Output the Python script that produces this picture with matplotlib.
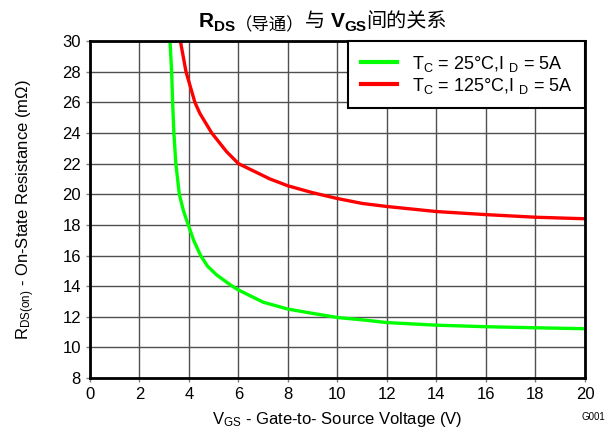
import matplotlib
matplotlib.use("Agg")
import matplotlib.pyplot as plt

plt.rcParams['font.family'] = ['Liberation Sans', 'Noto Sans CJK SC', 'DejaVu Sans']
plt.rcParams['mathtext.fontset'] = 'custom'
plt.rcParams['mathtext.rm'] = 'Liberation Sans'
plt.rcParams['mathtext.it'] = 'Liberation Sans:italic'
plt.rcParams['mathtext.bf'] = 'Liberation Sans:bold'

# curve data
vgs_25 = [3.20, 3.30, 3.34, 3.39, 3.47, 3.61, 3.78, 3.97, 4.2, 4.47, 4.75, 5.12, 5.7, 6, 7, 8, 9, 10, 11, 12, 14, 16, 18, 20]
rds_25 = [31.0, 28.0, 26.0, 24.0, 22.0, 20.0, 18.9, 18.0, 16.95, 16.0, 15.3, 14.73, 14.05, 13.75, 12.95, 12.5, 12.22, 11.95, 11.8, 11.62, 11.45, 11.35, 11.28, 11.22]

vgs_125 = [3.62, 3.88, 4.24, 4.44, 4.92, 5.52, 6.0, 7.27, 8, 9, 10, 11, 12, 14, 16, 18, 20]
rds_125 = [30.3, 28.0, 26.0, 25.28, 24.0, 22.78, 22.0, 21.0, 20.55, 20.1, 19.72, 19.4, 19.2, 18.87, 18.67, 18.5, 18.4]

label_25 = "T$_\\mathrm{C}$ = 25°C,I $_\\mathrm{D}$ = 5A"
label_125 = "T$_\\mathrm{C}$ = 125°C,I $_\\mathrm{D}$ = 5A"

xticks = list(range(0, 21, 2))
yticks = list(range(8, 31, 2))

fig = plt.figure(figsize=(6.1, 4.33), dpi=100)
ax = fig.add_axes([0.1475, 0.127, 0.8115, 0.778])

ax.plot(vgs_25, rds_25, color='#00ff00', lw=2.4, label=label_25)
ax.plot(vgs_125, rds_125, color='#ff0000', lw=2.4, label=label_125)

ax.set_xlim(0, 20)
ax.set_ylim(8, 30)
ax.set_xticks(xticks)
ax.set_yticks(yticks)
ax.grid(True, color='#505050', lw=1.0)
ax.tick_params(labelsize=12, length=3, color='#808080', direction='out', width=1)
for s in ax.spines.values():
    s.set_linewidth(2)
    s.set_color('black')

ax.set_xlabel("V$_\\mathrm{GS}$ - Gate-to- Source Voltage (V)", fontsize=12, labelpad=6)
ax.set_ylabel("R$_\\mathrm{DS(on)}$ - On-State Resistance (m\u03a9)", fontsize=12, labelpad=18)

leg = ax.legend(loc='upper right', fontsize=13, fancybox=False, borderaxespad=0,
                handlelength=2.0, handletextpad=0.8, borderpad=0.7, labelspacing=0.1,
                framealpha=1)
leg.get_frame().set_edgecolor('black')
leg.get_frame().set_linewidth(1.5)
for line in leg.get_lines():
    line.set_linewidth(3)

fig.text(0.993, 0.025, "G001", fontsize=7, ha='right', va='bottom')

# title built from pieces: bold R_DS, small (导通), etc.
pieces = [
    ("R", 15, 'bold', 0),
    ("DS", 11, 'bold', -4),
    ("（导通）", 12.5, 'normal', -3),
    ("与 ", 14.5, 'normal', 0),
    ("V", 15, 'bold', 0),
    ("GS", 11, 'bold', -4),
    ("间的关系", 14.5, 'normal', 0),
]
fig.canvas.draw()
renderer = fig.canvas.get_renderer()
x = 199
y0 = 433 - 27
for txt, size, weight, dy in pieces:
    t = fig.text(x / 610, (y0 + dy) / 433, txt, fontsize=size, weight=weight, va='baseline')
    bb = t.get_window_extent(renderer)
    x += bb.width

fig.savefig("out.png", dpi=100)
